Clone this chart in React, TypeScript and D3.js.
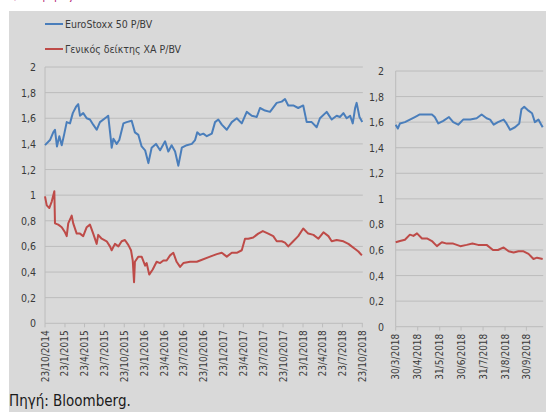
import React from 'react';
import * as d3 from 'd3';

// EuroStoxx 50 P/BV, full period (date, value)
const euroStoxxLong: [string, number][] = [
  ['2014-10-23', 1.39], ['2014-11-15', 1.43], ['2014-11-30', 1.49], ['2014-12-08', 1.51],
  ['2014-12-17', 1.38], ['2014-12-28', 1.46], ['2015-01-08', 1.39], ['2015-01-20', 1.48],
  ['2015-01-31', 1.57], ['2015-02-15', 1.56], ['2015-02-28', 1.64], ['2015-03-15', 1.69],
  ['2015-03-25', 1.71], ['2015-04-02', 1.62], ['2015-04-17', 1.64], ['2015-05-03', 1.6],
  ['2015-05-18', 1.59], ['2015-06-02', 1.55], ['2015-06-18', 1.51], ['2015-07-03', 1.57],
  ['2015-08-03', 1.61], ['2015-08-10', 1.62], ['2015-08-22', 1.44], ['2015-08-26', 1.37],
  ['2015-09-03', 1.44], ['2015-09-18', 1.4], ['2015-09-30', 1.43], ['2015-10-19', 1.56],
  ['2015-11-03', 1.57], ['2015-11-26', 1.58], ['2015-12-11', 1.49], ['2015-12-27', 1.47],
  ['2016-01-11', 1.38], ['2016-01-27', 1.35], ['2016-02-11', 1.25], ['2016-02-26', 1.37],
  ['2016-03-17', 1.4], ['2016-04-05', 1.35], ['2016-04-28', 1.42], ['2016-05-13', 1.34],
  ['2016-05-28', 1.39], ['2016-06-13', 1.34], ['2016-06-28', 1.23], ['2016-07-14', 1.37],
  ['2016-08-06', 1.39], ['2016-08-29', 1.4], ['2016-09-13', 1.43], ['2016-09-23', 1.49],
  ['2016-10-06', 1.47], ['2016-10-21', 1.48], ['2016-11-06', 1.46], ['2016-11-29', 1.48],
  ['2016-12-14', 1.57], ['2016-12-29', 1.59], ['2017-01-14', 1.55], ['2017-02-06', 1.51],
  ['2017-03-01', 1.57], ['2017-03-24', 1.6], ['2017-04-16', 1.56], ['2017-05-09', 1.65],
  ['2017-06-01', 1.62], ['2017-06-24', 1.61], ['2017-07-09', 1.68], ['2017-08-01', 1.66],
  ['2017-08-24', 1.65], ['2017-09-24', 1.72], ['2017-10-17', 1.73], ['2017-11-01', 1.75],
  ['2017-11-16', 1.7], ['2017-12-09', 1.7], ['2018-01-01', 1.68], ['2018-01-24', 1.7],
  ['2018-02-09', 1.57], ['2018-03-04', 1.57], ['2018-03-27', 1.53], ['2018-04-11', 1.6],
  ['2018-05-12', 1.65], ['2018-06-04', 1.59], ['2018-06-27', 1.62], ['2018-07-12', 1.61],
  ['2018-07-28', 1.64], ['2018-08-12', 1.6], ['2018-08-28', 1.62], ['2018-09-09', 1.56],
  ['2018-09-20', 1.68], ['2018-09-27', 1.72], ['2018-10-10', 1.61], ['2018-10-23', 1.57],
];

// Γενικός δείκτης ΧΑ P/BV, full period
const athexLong: [string, number][] = [
  ['2014-10-23', 0.99], ['2014-10-31', 0.92], ['2014-11-12', 0.9], ['2014-11-23', 0.95],
  ['2014-12-05', 1.03], ['2014-12-08', 0.78], ['2014-12-23', 0.77], ['2015-01-08', 0.75],
  ['2015-01-23', 0.71], ['2015-01-31', 0.68], ['2015-02-07', 0.78], ['2015-02-23', 0.84],
  ['2015-03-02', 0.78], ['2015-03-18', 0.7], ['2015-04-02', 0.7], ['2015-04-17', 0.68],
  ['2015-05-03', 0.75], ['2015-05-18', 0.77], ['2015-06-02', 0.7], ['2015-06-18', 0.62],
  ['2015-06-25', 0.69], ['2015-07-11', 0.66], ['2015-08-03', 0.64], ['2015-08-18', 0.6],
  ['2015-08-26', 0.57], ['2015-09-10', 0.62], ['2015-09-26', 0.6], ['2015-10-11', 0.64],
  ['2015-10-26', 0.65], ['2015-11-11', 0.61], ['2015-11-23', 0.57], ['2015-12-01', 0.49],
  ['2015-12-07', 0.32], ['2015-12-11', 0.48], ['2015-12-27', 0.52], ['2016-01-11', 0.52],
  ['2016-01-27', 0.45], ['2016-02-03', 0.47], ['2016-02-15', 0.38], ['2016-03-02', 0.42],
  ['2016-03-20', 0.48], ['2016-04-05', 0.47], ['2016-04-20', 0.49], ['2016-05-05', 0.49],
  ['2016-05-21', 0.53], ['2016-06-05', 0.55], ['2016-06-20', 0.48], ['2016-07-06', 0.44],
  ['2016-07-21', 0.47], ['2016-08-21', 0.48], ['2016-09-21', 0.48], ['2016-10-06', 0.49],
  ['2016-11-21', 0.52], ['2016-12-22', 0.54], ['2017-01-14', 0.55], ['2017-02-06', 0.52],
  ['2017-03-01', 0.55], ['2017-03-24', 0.55], ['2017-04-16', 0.57], ['2017-05-01', 0.66],
  ['2017-05-16', 0.66], ['2017-06-08', 0.67], ['2017-07-01', 0.7], ['2017-07-22', 0.72],
  ['2017-08-16', 0.7], ['2017-09-08', 0.68], ['2017-09-24', 0.64], ['2017-10-17', 0.64],
  ['2017-11-01', 0.63], ['2017-11-16', 0.6], ['2017-12-09', 0.64], ['2018-01-01', 0.68],
  ['2018-01-24', 0.74], ['2018-02-16', 0.7], ['2018-03-12', 0.69], ['2018-04-04', 0.66],
  ['2018-04-27', 0.71], ['2018-05-20', 0.68], ['2018-06-04', 0.64], ['2018-06-27', 0.65],
  ['2018-07-28', 0.64], ['2018-08-20', 0.62], ['2018-09-04', 0.6], ['2018-09-20', 0.58],
  ['2018-10-05', 0.56], ['2018-10-21', 0.53],
];

// zoomed period, Mar-Oct 2018
const euroStoxxShort: [string, number][] = [
  ['2018-03-30', 1.58], ['2018-04-02', 1.55], ['2018-04-05', 1.59], ['2018-04-12', 1.6],
  ['2018-04-19', 1.62], ['2018-04-26', 1.64], ['2018-05-03', 1.66], ['2018-05-13', 1.66],
  ['2018-05-20', 1.66], ['2018-05-24', 1.64], ['2018-05-29', 1.59], ['2018-06-05', 1.61],
  ['2018-06-13', 1.64], ['2018-06-19', 1.6], ['2018-06-26', 1.58], ['2018-07-03', 1.62],
  ['2018-07-13', 1.62], ['2018-07-22', 1.63], ['2018-07-29', 1.66], ['2018-08-05', 1.63],
  ['2018-08-10', 1.62], ['2018-08-15', 1.58], ['2018-08-21', 1.6], ['2018-08-29', 1.62],
  ['2018-09-02', 1.59], ['2018-09-07', 1.54], ['2018-09-14', 1.56], ['2018-09-20', 1.59],
  ['2018-09-23', 1.7], ['2018-09-27', 1.72], ['2018-10-03', 1.69], ['2018-10-08', 1.67],
  ['2018-10-12', 1.6], ['2018-10-17', 1.62], ['2018-10-20', 1.59], ['2018-10-23', 1.56],
];

const athexShort: [string, number][] = [
  ['2018-03-30', 0.66], ['2018-04-05', 0.67], ['2018-04-12', 0.68], ['2018-04-19', 0.72],
  ['2018-04-24', 0.71], ['2018-04-29', 0.73], ['2018-05-06', 0.69], ['2018-05-13', 0.69],
  ['2018-05-20', 0.67], ['2018-05-27', 0.63], ['2018-06-03', 0.66], ['2018-06-10', 0.65],
  ['2018-06-19', 0.65], ['2018-06-29', 0.63], ['2018-07-08', 0.64], ['2018-07-16', 0.65],
  ['2018-07-24', 0.64], ['2018-08-05', 0.64], ['2018-08-14', 0.6], ['2018-08-21', 0.6],
  ['2018-08-29', 0.62], ['2018-09-05', 0.59], ['2018-09-12', 0.58], ['2018-09-19', 0.59],
  ['2018-09-26', 0.59], ['2018-10-03', 0.57], ['2018-10-10', 0.53], ['2018-10-15', 0.54],
  ['2018-10-23', 0.53],
];

const longTicks = [
  '23/10/2014', '23/1/2015', '23/4/2015', '23/7/2015', '23/10/2015', '23/1/2016', '23/4/2016',
  '23/7/2016', '23/10/2016', '23/1/2017', '23/4/2017', '23/7/2017', '23/10/2017', '23/1/2018',
  '23/4/2018', '23/7/2018', '23/10/2018',
];
const shortTicks = ['30/3/2018', '30/4/2018', '31/5/2018', '30/6/2018', '31/7/2018', '31/8/2018', '30/9/2018'];

const yTicks = [0, 0.2, 0.4, 0.6, 0.8, 1, 1.2, 1.4, 1.6, 1.8, 2];
const yLabels = ['0', '0,2', '0,4', '0,6', '0,8', '1', '1,2', '1,4', '1,6', '1,8', '2'];

const seriesNames = ['EuroStoxx 50 P/BV', 'Γενικός δείκτης ΧΑ P/BV'];

const BLUE = '#4a7ebb';
const RED = '#be4b48';
const GRID = '#bcbcbc';
const TXT = '#3a3a3a';
const FONT = "'DejaVu Sans Condensed', 'DejaVu Sans', sans-serif";

const parseIso = d3.timeParse('%Y-%m-%d');
const parseDmy = d3.timeParse('%d/%m/%Y');

type Panel = {
  x0: number; x1: number; yTop: number; yBot: number;
  domain: [string, string]; ticks: string[]; labelX: number;
  series: [string, number][][];
};

const ChartPanel = ({ p }: { p: Panel }) => {
  const x = d3.scaleTime().domain([parseIso(p.domain[0])!, parseIso(p.domain[1])!]).range([p.x0, p.x1]);
  const y = d3.scaleLinear().domain([0, 2]).range([p.yBot, p.yTop]);
  const line = d3
    .line<[string, number]>()
    .x(d => x(parseIso(d[0])!))
    .y(d => y(d[1]));
  const colors = [BLUE, RED];

  return (
    <g>
      {yTicks.map((t, i) => (
        <g key={t}>
          <line x1={p.x0} x2={p.x1 + 0.5} y1={y(t)} y2={y(t)} stroke={GRID} strokeWidth={1} />
          <text x={p.labelX} y={y(t)} textAnchor="end" dominantBaseline="central" fontSize={10.5} fill={TXT}>
            {yLabels[i]}
          </text>
        </g>
      ))}
      <line x1={p.x0} x2={p.x0} y1={p.yTop} y2={p.yBot} stroke={GRID} strokeWidth={1} />
      {p.ticks.map(t => {
        const tx = x(parseDmy(t)!);
        return (
          <g key={t}>
            <line x1={tx} x2={tx} y1={p.yBot} y2={p.yBot + 4} stroke={GRID} strokeWidth={1} />
            <text
              transform={`translate(${tx},${p.yBot + 7}) rotate(-90)`}
              textAnchor="end"
              dominantBaseline="central"
              fontSize={10}
              fill={TXT}
            >
              {t}
            </text>
          </g>
        );
      })}
      {p.series.map((s, i) => (
        <path key={i} d={line(s) || ''} fill="none" stroke={colors[i]} strokeWidth={2} strokeLinejoin="round" />
      ))}
    </g>
  );
};

export default function App() {
  const left: Panel = {
    x0: 45, x1: 362.3, yTop: 67, yBot: 323.3,
    domain: ['2014-10-23', '2018-10-23'], ticks: longTicks, labelX: 36,
    series: [euroStoxxLong, athexLong],
  };
  const right: Panel = {
    x0: 395.7, x1: 542.7, yTop: 71, yBot: 326.7,
    domain: ['2018-03-30', '2018-10-23'], ticks: shortTicks, labelX: 384,
    series: [euroStoxxShort, athexShort],
  };

  return (
    <svg width={548} height={412} style={{ position: 'absolute', left: 0, top: 0 }} fontFamily={FONT}>
      <rect x={0} y={0} width={548} height={412} fill="#ffffff" />
      <text x={8} y={-1} fontSize={12} fill="#b8317a">P/BV (φορές)</text>
      <rect x={9} y={11} width={537} height={401} fill="#d9d9d9" />
      <ChartPanel p={left} />
      <ChartPanel p={right} />
      {seriesNames.map((n, i) => (
        <g key={n}>
          <line x1={45} x2={63} y1={24 + i * 25} y2={24 + i * 25} stroke={i === 0 ? BLUE : RED} strokeWidth={2} />
          <text x={65} y={24 + i * 25} dominantBaseline="central" fontSize={10.5} fill={TXT}>{n}</text>
        </g>
      ))}
      <text x={9} y={401} dominantBaseline="central" fontSize={15} fill="#1a1a1a">Πηγή: Bloomberg.</text>
    </svg>
  );
}
